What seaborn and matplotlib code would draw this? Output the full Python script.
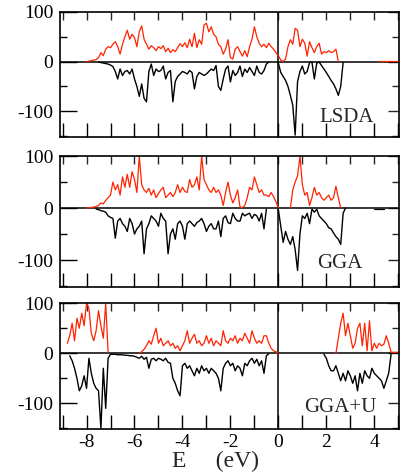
import numpy as np
import pandas as pd
import matplotlib
matplotlib.use("Agg")
import matplotlib.pyplot as plt
import seaborn as sns
from matplotlib.ticker import MultipleLocator

nan = np.nan
STEP = 0.1  # energy grid spacing (eV)

# ---- LSDA ----
lsda_up_start = -8.0
lsda_up = [0, 1, 2, 3, 4, 8, 18, 12, 25, 30,
           28, 35, 40, 30, 15, 35, 50, 63, 45, 55,
           48, 30, 60, 72, 45, 35, 25, 32, 28, 22,
           30, 26, 32, 20, 27, 18, 24, 20, 28, 36,
           30, 38, 28, 45, 30, 57, 28, 44, 35, 74,
           77, 60, 70, 55, 50, 35, 30, 15, 25, 44,
           8, 5, 25, 30, 20, 11, 22, 10, 30, 45,
           70, 50, 37, 30, 35, 28, 37, 30, 25, 18,
           12, 3, 0, 5, 30, 44, 35, 67, 63, 30,
           45, 37, 11, 40, 28, 18, 30, 37, 15, 20,
           18, 22, 18, 20, 25, 0]
lsda_dn_start = -7.5
lsda_dn = [-1, -2, -3, -4, -5, -7, -10, -20, -35, -15,
           -28, -20, -18, -25, -15, -35, -50, -70, -45, -74,
           -81, -20, -5, -28, -15, -20, -18, -9, -35, -22,
           -18, -81, -40, -30, -25, -20, -22, -25, -18, -22,
           -55, -30, -22, -25, -28, -25, -20, -15, -18, -8,
           -50, -58, -35, -15, -9, -41, -18, -28, -22, -9,
           -30, -15, -22, -12, -20, -28, -9, -22, -25, -18,
           -5, -1, nan, nan, nan, -3, -22, -30, -38, -50,
           -68, -88, -148, -40, -20, -9, -25, -20, -2, -1,
           -35, -3, -1, -8, -15, -22, -30, -38, -45, -55,
           -68, -50, -2]
lsda_up_tail_e = [4.2, 5.0]
lsda_up_tail = [1, 1]

# ---- GGA ----
gga_up_start = -8.0
gga_up = [0, 1, 1, 2, 3, 5, 10, 8, 15, 20,
          25, 50, 35, 45, 25, 60, 40, 65, 40, 70,
          55, 30, 100, 45, 35, 30, 38, 25, 35, 20,
          28, 35, 40, 20, 25, 30, 22, 30, 45, 30,
          40, 32, 30, 55, 40, 45, 60, 35, 100, 55,
          45, 35, 30, 40, 30, 35, 25, 5, 30, 50,
          25, 10, 20, 35, 2, 1, 5, 20, 40, 35,
          60, 45, 30, 35, 25, 25, 22, 30, 22, 12,
          0, nan, nan, nan, nan, 0, 35, 50, 62, 100,
          45, 25, 30, 5, 20, 40, 25, 30, 20, 15,
          20, 25, 15, 20, 42, 20, 0]
gga_dn_start = -7.6
gga_dn = [-2, -3, -5, -6, -8, -15, -18, -20, -58, -25,
          -20, -30, -35, -45, -20, -30, -50, -40, -35, -25,
          -88, -40, -30, -15, -20, -25, -35, -10, -20, -25,
          -88, -50, -40, -60, -30, -25, -35, -60, -30, -25,
          -30, -35, -28, -25, -20, -30, -45, -35, -30, -40,
          -40, -25, -55, -20, -15, -28, -30, -10, -20, -25,
          -25, -10, -15, -12, -10, -20, -12, -15, -25, -10,
          -40, -2, nan, nan, nan, nan, -3, -35, -66, -45,
          -60, -70, -55, -80, -120, -50, -15, -20, -10, -30,
          -2, -8, -2, -15, -20, -25, -30, -38, -40, -48,
          -55, -60, -70, -10, 0]
gga_dn_tail_e = [4.0, 4.4]
gga_dn_tail = [-2, -2]

# ---- GGA+U ----
ggau_up_start = -8.8
ggau_up = [20, 35, 60, 25, 70, 50, 80, 55, 100, 90,
           40, 25, 45, 85, 55, 30, 100, 2, nan, nan,
           nan, nan, nan, nan, nan, nan, nan, nan, nan, nan,
           0, 3, 8, 15, 25, 18, 35, 50, 20, 30,
           15, 20, 25, 15, 20, 10, 15, 5, 15, 25,
           45, 20, 30, 38, 20, 25, 15, 20, 35, 20,
           30, 15, 25, 20, 15, 45, 25, 20, 30, 25,
           35, 20, 30, 25, 40, 30, 20, 45, 30, 20,
           25, 20, 35, 35, 20, 10, 5, 3, 0, nan,
           nan, nan, nan, nan, nan, nan, nan, nan, nan, nan,
           nan, nan, nan, nan, nan, nan, nan, nan, nan, nan,
           nan, nan, 0, 30, 60, 80, 35, 60, 35, 10,
           20, 50, 60, 15, 60, 5, 65, 5, 20, 10,
           20, 15, 18, 35, 20, 2, 2, 2, 2]
ggau_dn_start = -8.7
ggau_dn = [-5, -15, -30, -50, -75, -65, -45, -70, -10, -40,
           -60, -70, -75, -150, -30, -110, -10, -2, -2, -2,
           -3, -3, -3, -4, -4, -5, -5, -6, -8, -10,
           -6, -12, -8, -30, -12, -10, -15, -10, -12, -15,
           -10, -18, -20, -50, -60, -75, -85, -25, -20, -30,
           -25, -35, -45, -30, -40, -25, -35, -30, -40, -30,
           -35, -40, -50, -75, -30, -20, -15, -25, -20, -35,
           -25, -30, -45, -20, -25, -15, -10, -20, -12, -25,
           -15, -40, -5, -1, nan, nan, nan, nan, nan, nan,
           nan, nan, nan, nan, nan, nan, nan, nan, nan, nan,
           nan, nan, nan, nan, nan, nan, -2, -10, -25, -35,
           -35, -25, -40, -55, -40, -55, -35, -45, -60, -45,
           -75, -40, -60, -35, -45, -50, -30, -40, -45, -50,
           -55, -70, -55, -40, -2]

panels = [
    ("LSDA", lsda_up_start, lsda_up, lsda_dn_start, lsda_dn,
     (lsda_up_tail_e, lsda_up_tail, "up")),
    ("GGA", gga_up_start, gga_up, gga_dn_start, gga_dn,
     (gga_dn_tail_e, gga_dn_tail, "dn")),
    ("GGA+U", ggau_up_start, ggau_up, ggau_dn_start, ggau_dn, None),
]

RED = "#ff2200"


def to_frame(start, vals):
    e = np.round(start + STEP * np.arange(len(vals)), 2)
    df = pd.DataFrame({"E": e, "dos": np.array(vals, dtype=float)})
    df["seg"] = df["dos"].isna().cumsum()
    return df.dropna()


sns.set_theme(style="ticks")
plt.rcParams["font.family"] = ["Liberation Serif", "DejaVu Serif"]
plt.rcParams["axes.unicode_minus"] = False

fig = plt.figure(figsize=(4.01, 4.76), dpi=100)
boxes = [(0.150, 0.712, 0.845, 0.263),
         (0.150, 0.397, 0.845, 0.275),
         (0.150, 0.098, 0.845, 0.265)]
# (right edge, baseline) in axes fraction
label_pos = [(0.926, 0.12), (0.891, 0.145), (0.935, 0.137)]

for i, (name, us, up, ds, dn, tail) in enumerate(panels):
    ax = fig.add_axes(boxes[i])
    ax.axhline(0, color="black", lw=1.1, zorder=1)
    ax.axvline(0, color="black", lw=1.1, zorder=1)
    sns.lineplot(data=to_frame(ds, dn), x="E", y="dos", units="seg",
                 estimator=None, color="black", lw=1.0, ax=ax, legend=False)
    sns.lineplot(data=to_frame(us, up), x="E", y="dos", units="seg",
                 estimator=None, color=RED, lw=0.9, ax=ax, legend=False)
    if tail is not None:
        te, tv, kind = tail
        sns.lineplot(x=te, y=tv, color=RED if kind == "up" else "black",
                     lw=0.9, ax=ax, legend=False)
    ax.set_xlim(-9.1, 5.03)
    ax.set_ylim(-152, 100)
    ax.xaxis.set_major_locator(MultipleLocator(2))
    ax.xaxis.set_minor_locator(MultipleLocator(1))
    ax.yaxis.set_major_locator(MultipleLocator(100))
    ax.yaxis.set_minor_locator(MultipleLocator(50))
    ax.tick_params(axis="both", which="both", direction="in", width=1.0,
                   colors="black", labelsize=14)
    ax.tick_params(axis="x", which="both", length=10, pad=3)
    ax.tick_params(axis="y", which="both", pad=5)
    ax.tick_params(axis="y", which="major", length=12)
    ax.tick_params(axis="y", which="minor", length=5)
    # top and right ticks
    top = ax.secondary_xaxis("top")
    top.xaxis.set_major_locator(MultipleLocator(1))
    top.tick_params(direction="in", length=6, width=1.0, labeltop=False)
    right = ax.secondary_yaxis("right")
    right.yaxis.set_major_locator(MultipleLocator(100))
    right.yaxis.set_minor_locator(MultipleLocator(50))
    right.tick_params(which="major", direction="in", length=8, width=1.0,
                      labelright=False)
    right.tick_params(which="minor", direction="in", length=5, width=1.0)
    for sec in (top, right):
        for sp in sec.spines.values():
            sp.set_visible(False)
    for sp in ax.spines.values():
        sp.set_linewidth(1.2)
        sp.set_color("black")
    ax.set_ylabel("")
    if i < 2:
        ax.set_xticklabels([])
        ax.set_xlabel("")
    else:
        ax.set_xlabel("E     (eV)", fontsize=17)
        ax.xaxis.set_label_coords(0.458, -0.17)
    ax.text(label_pos[i][0], label_pos[i][1], name, transform=ax.transAxes,
            ha="right", va="baseline", fontsize=15)

fig.savefig("out.png", dpi=100)
